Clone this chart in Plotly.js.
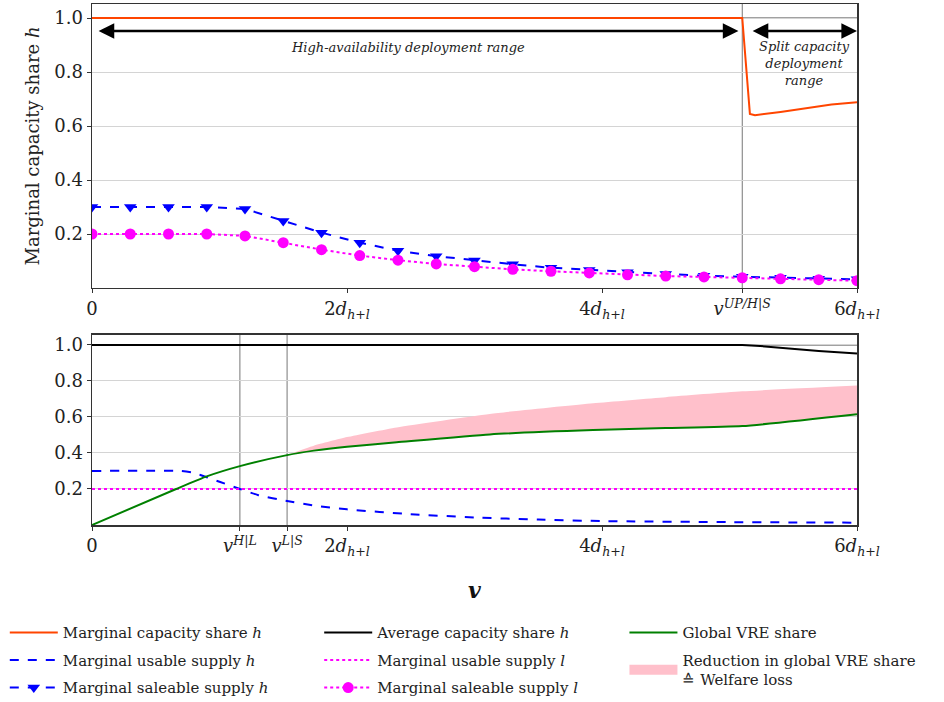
<!DOCTYPE html>
<html>
<head>
<meta charset="utf-8">
<script src="https://cdn.plot.ly/plotly-3.0.1.min.js"></script>
<style>html,body{margin:0;padding:0;background:#fff;}#chart{width:944px;height:702px;}</style>
</head>
<body>
<div id="chart"></div>
<script>
// ---- key positions on the v axis (in units of d_{h+l}) ----
const vUP = 5.1;   // v^{UP/H|S}
const vHL = 1.16;  // v^{H|L}
const vLS = 1.53;  // v^{L|S}

// ---- top panel ----
const capX = [0, 5.1, 5.16, 5.2, 5.4, 5.6, 5.8, 6.0];
const capY = [1.0, 1.0, 0.645, 0.64, 0.652, 0.666, 0.68, 0.688];

const markX = [0, 0.3, 0.6, 0.9, 1.2, 1.5, 1.8, 2.1, 2.4, 2.7, 3.0, 3.3, 3.6, 3.9, 4.2, 4.5, 4.8, 5.1, 5.4, 5.7, 6.0];
const saleH = [0.3, 0.3, 0.3, 0.3, 0.293, 0.248, 0.205, 0.168, 0.138, 0.118, 0.102, 0.088, 0.075, 0.067, 0.058, 0.052, 0.045, 0.042, 0.038, 0.034, 0.032];
const saleL = [0.2, 0.2, 0.2, 0.2, 0.193, 0.168, 0.142, 0.12, 0.103, 0.089, 0.079, 0.069, 0.062, 0.056, 0.049, 0.044, 0.041, 0.038, 0.034, 0.031, 0.027];

// ---- bottom panel ----
const avgX = [0, 5.1, 5.24, 5.4, 5.7, 6.0];
const avgY = [1.0, 1.0, 0.994, 0.983, 0.966, 0.952];

const usableHX = [0, 0.7, 0.8, 0.9, 1.0, 1.16, 1.3, 1.53, 1.75, 2.0, 2.5, 3.0, 3.5, 4.0, 5.0, 6.0];
const usableHY = [0.3, 0.3, 0.29, 0.265, 0.24, 0.2, 0.167, 0.133, 0.107, 0.087, 0.06, 0.042, 0.03, 0.022, 0.016, 0.013];

const usableLX = [0, 6];
const usableLY = [0.2, 0.2];

const vreX = [0, 0.66, 0.9, 1.16, 1.53, 1.74, 2.0, 2.39, 3.12, 3.93, 4.5, 5.1, 6.0];
const vreY = [0, 0.2, 0.27, 0.327, 0.388, 0.413, 0.435, 0.459, 0.503, 0.527, 0.538, 0.549, 0.615];

const lossX = [1.53, 1.74, 2.0, 2.39, 3.12, 3.93, 4.5, 5.1, 6.0];
const lossLower = [0.388, 0.413, 0.435, 0.459, 0.503, 0.527, 0.538, 0.549, 0.615];
const lossUpper = [0.388, 0.44, 0.488, 0.542, 0.617, 0.676, 0.71, 0.742, 0.774];

// ---- tick labels ----
const dLab = n => n + '<i>d</i><sub><i>h+l</i></sub>';
const topTickVals = [0, 2, 4, vUP, 6];
const topTickText = ['0', dLab(2), dLab(4), '<i>v</i><sup><i>UP/H|S</i></sup>', dLab(6)];
const botTickVals = [0, vHL, vLS, 2, 4, 6];
const botTickText = ['0', '<i>v</i><sup><i>H|L</i></sup>', '<i>v</i><sup><i>L|S</i></sup>', dLab(2), dLab(4), dLab(6)];
const yTickVals = [0.2, 0.4, 0.6, 0.8, 1.0];
const yTickText = ['0.2', '0.4', '0.6', '0.8', '1.0'];

const FONT = 'DejaVu Serif';

const traces = [
  {x: capX, y: capY, xaxis: 'x', yaxis: 'y', mode: 'lines', name: 'Marginal capacity share <i>h</i>',
   line: {color: '#ff4500', width: 2}, legend: 'legend', legendgroup: 'g1', legendrank: 1},
  {x: markX, y: saleH, xaxis: 'x', yaxis: 'y', mode: 'lines+markers', name: 'Marginal saleable supply <i>h</i>',
   line: {color: '#0000ff', width: 2, dash: 'dash'}, marker: {symbol: 'triangle-down', size: 11, color: '#0000ff'},
   legend: 'legend', legendgroup: 'g3', legendrank: 3},
  {x: markX, y: saleL, xaxis: 'x', yaxis: 'y', mode: 'lines+markers', name: 'Marginal saleable supply <i>l</i>',
   line: {color: '#ff00ff', width: 2, dash: 'dot'}, marker: {symbol: 'circle', size: 11, color: '#ff00ff'},
   legend: 'legend2', legendgroup: 'g6', legendrank: 3},
  {x: lossX, y: lossLower, xaxis: 'x2', yaxis: 'y2', mode: 'lines', line: {width: 0, color: 'rgba(0,0,0,0)', shape: 'spline', smoothing: 0.5},
   showlegend: false, hoverinfo: 'skip'},
  {x: lossX, y: lossUpper, xaxis: 'x2', yaxis: 'y2', mode: 'lines', fill: 'tonexty', fillcolor: '#ffc0cb',
   line: {width: 0, color: '#ffc0cb', shape: 'spline', smoothing: 0.5}, showlegend: false, hoverinfo: 'skip'},
  // legend entry for the welfare-loss area
  {x: [null], y: [null], xaxis: 'x2', yaxis: 'y2', mode: 'lines', name: 'Reduction in global VRE share<br>≙ Welfare loss',
   line: {color: '#ffc0cb', width: 20}, legend: 'legend3', legendgroup: 'g8', legendrank: 2},
  {x: avgX, y: avgY, xaxis: 'x2', yaxis: 'y2', mode: 'lines', name: 'Average capacity share <i>h</i>',
   line: {color: '#000000', width: 2}, legend: 'legend2', legendgroup: 'g4', legendrank: 1},
  {x: usableHX, y: usableHY, xaxis: 'x2', yaxis: 'y2', mode: 'lines', name: 'Marginal usable supply <i>h</i>',
   line: {color: '#0000ff', width: 2, dash: 'dash', shape: 'spline', smoothing: 0.6}, legend: 'legend', legendgroup: 'g2', legendrank: 2},
  {x: usableLX, y: usableLY, xaxis: 'x2', yaxis: 'y2', mode: 'lines', name: 'Marginal usable supply <i>l</i>',
   line: {color: '#ff00ff', width: 2, dash: 'dot'}, legend: 'legend2', legendgroup: 'g5', legendrank: 2},
  {x: vreX, y: vreY, xaxis: 'x2', yaxis: 'y2', mode: 'lines', name: 'Global VRE share',
   line: {color: '#008000', width: 2, shape: 'spline', smoothing: 0.5}, legend: 'legend3', legendgroup: 'g7', legendrank: 1}
];

const axBase = {
  showline: true, mirror: true, linecolor: '#333', linewidth: 1.5,
  ticks: 'outside', ticklen: 4, tickcolor: '#333', zeroline: false,
  tickfont: {family: FONT, size: 18, color: '#222'}
};

const legBase = {
  orientation: 'v', xanchor: 'left', yanchor: 'top', yref: 'container', bgcolor: 'rgba(0,0,0,0)',
  itemwidth: 48, font: {family: FONT, size: 15, color: '#222'}, traceorder: 'grouped', tracegroupgap: 5,
  itemclick: false, itemdoubleclick: false
};

const layout = {
  width: 944, height: 702,
  margin: {l: 92, r: 87, t: 4, b: 177},
  paper_bgcolor: '#fff', plot_bgcolor: '#fff',
  font: {family: FONT, size: 18, color: '#222'},
  showlegend: true,
  xaxis: Object.assign({}, axBase, {anchor: 'y', domain: [0, 1], range: [0, 6], showgrid: false,
    tickvals: topTickVals, ticktext: topTickText}),
  yaxis: Object.assign({}, axBase, {anchor: 'x', domain: [0.4549, 1], range: [0, 1.052],
    tickvals: yTickVals, ticktext: yTickText, showgrid: true, gridcolor: '#d4d4d4', gridwidth: 1,
    title: {text: 'Marginal capacity share <i>h</i>', font: {family: FONT, size: 18, color: '#222'}, standoff: 10}}),
  xaxis2: Object.assign({}, axBase, {anchor: 'y2', domain: [0, 1], range: [0, 6], showgrid: false,
    tickvals: botTickVals, ticktext: botTickText,
    title: {text: '<b><i>v</i></b>', font: {family: FONT, size: 22, color: '#111'}, standoff: 24}}),
  yaxis2: Object.assign({}, axBase, {anchor: 'x2', domain: [0, 0.3647], range: [0, 1.055],
    tickvals: yTickVals, ticktext: yTickText, showgrid: true, gridcolor: '#d4d4d4', gridwidth: 1}),
  legend: Object.assign({}, legBase, {x: -0.114, y: 0.122}),
  legend2: Object.assign({}, legBase, {x: 0.297, y: 0.122}),
  legend3: Object.assign({}, legBase, {x: 0.696, y: 0.122}),
  shapes: [
    {type: 'line', xref: 'x', yref: 'y domain', x0: vUP, x1: vUP, y0: 0, y1: 1, line: {color: '#777', width: 1}, layer: 'below'},
    {type: 'line', xref: 'x2', yref: 'y2 domain', x0: vHL, x1: vHL, y0: 0, y1: 1, line: {color: '#777', width: 1}, layer: 'below'},
    {type: 'line', xref: 'x2', yref: 'y2 domain', x0: vLS, x1: vLS, y0: 0, y1: 1, line: {color: '#777', width: 1}, layer: 'below'},
    {type: 'line', xref: 'x domain', yref: 'y', x0: 0, x1: 1, y0: 1, y1: 1, line: {color: '#444', width: 1.2}, layer: 'below'},
    {type: 'line', xref: 'x2 domain', yref: 'y2', x0: 0, x1: 1, y0: 1, y1: 1, line: {color: '#444', width: 1.2}, layer: 'below'}
  ],
  annotations: [
    {xref: 'x', yref: 'y', axref: 'x', ayref: 'y', x: 5.07, y: 0.952, ax: 0.04, ay: 0.952, text: '',
     showarrow: true, arrowside: 'end+start', arrowhead: 2, startarrowhead: 2, arrowsize: 1.25, startarrowsize: 1.25,
     arrowwidth: 2.5, arrowcolor: '#000'},
    {xref: 'x', yref: 'y', axref: 'x', ayref: 'y', x: 6.0, y: 0.952, ax: 5.17, ay: 0.952, text: '',
     showarrow: true, arrowside: 'end+start', arrowhead: 2, startarrowhead: 2, arrowsize: 1.25, startarrowsize: 1.25,
     arrowwidth: 2.5, arrowcolor: '#000'},
    {xref: 'x', yref: 'y', x: 2.48, y: 0.89, text: '<i>High-availability deployment range</i>', showarrow: false,
     font: {family: FONT, size: 13, color: '#222'}},
    {xref: 'x', yref: 'y', x: 5.59, y: 0.83, text: '<i>Split capacity<br>deployment<br>range</i>', showarrow: false,
     font: {family: FONT, size: 13, color: '#222'}, align: 'center'}
  ]
};

Plotly.newPlot('chart', traces, layout, {displayModeBar: false, staticPlot: true});
</script>
</body>
</html>
